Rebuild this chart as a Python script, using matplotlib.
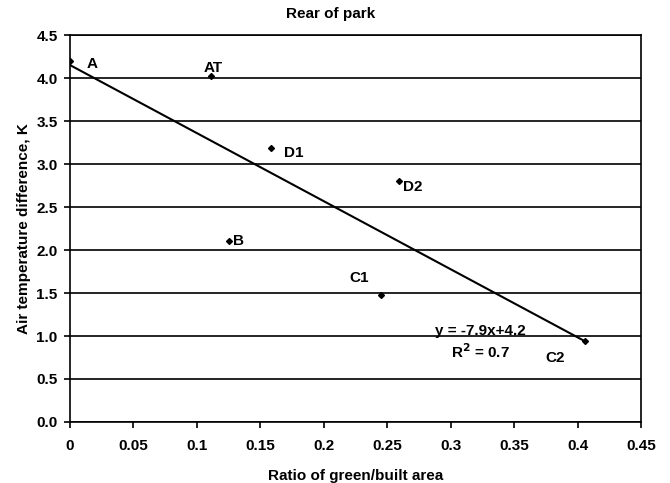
import numpy as np
import matplotlib
matplotlib.use('Agg')
import matplotlib.pyplot as plt

plt.rcParams['font.family'] = ['Liberation Sans', 'DejaVu Sans']
plt.rcParams['font.weight'] = 'bold'

# data
labels = ['A', 'AT', 'D1', 'D2', 'B', 'C1', 'C2']
ratio = [0.0, 0.111, 0.158, 0.259, 0.125, 0.245, 0.406]
dtemp = [4.20, 4.02, 3.19, 2.80, 2.10, 1.48, 0.94]
# label offsets (points)
offsets = [(12, -2), (-5, 6), (10, -4), (3, -4), (3, 0), (-23, 12), (-29, -12)]

fig = plt.figure(figsize=(6.7, 4.83), dpi=100)
ax = fig.add_axes([0.1045, 0.1263, 0.8525, 0.8012])

ax.plot(ratio, dtemp, linestyle='none', marker='D', markersize=3, color='black', zorder=3)

slope, icpt = np.polyfit(ratio, dtemp, 1)
xs = np.array([min(ratio), max(ratio)])
ax.plot(xs, slope * xs + icpt, color='black', linewidth=1.5, zorder=2)

for lab, x, y, off in zip(labels, ratio, dtemp, offsets):
    ax.annotate(lab, (x, y), xytext=off, textcoords='offset points',
                fontsize=11, fontweight='bold', ha='left', va='center')

ax.text(0.323, 1.06, 'y = -7.9x+4.2', fontsize=11, fontweight='bold', ha='center', va='center')
ax.text(0.323, 0.82, 'R$^{\\mathbf{2}}$ = 0.7', fontsize=11, fontweight='bold', ha='center', va='center')

ax.set_xlim(0, 0.45)
ax.set_ylim(0, 4.5)
ax.set_xticks(np.arange(0, 0.451, 0.05))
ax.set_xticklabels(['0', '0.05', '0.1', '0.15', '0.2', '0.25', '0.3', '0.35', '0.4', '0.45'])
ax.set_yticks(np.arange(0, 4.51, 0.5))
ax.set_yticklabels([f'{v:.1f}' for v in np.arange(0, 4.51, 0.5)])
ax.tick_params(axis='x', direction='out', length=4, width=1.2, labelsize=11, pad=8)
ax.tick_params(axis='y', direction='out', length=4, width=1.2, labelsize=11, pad=5)
ax.yaxis.grid(True, color='black', linewidth=1.2)
ax.set_axisbelow(True)
for s in ax.spines.values():
    s.set_linewidth(1.2)

ax.set_xlabel('Ratio of green/built area', fontsize=11, fontweight='bold', labelpad=12)
ax.set_ylabel('Air temperature difference, K', fontsize=11, fontweight='bold', labelpad=4)
fig.suptitle('Rear of park', fontsize=11, fontweight='bold', x=0.493, y=0.985)

fig.savefig('out.png', dpi=100)
